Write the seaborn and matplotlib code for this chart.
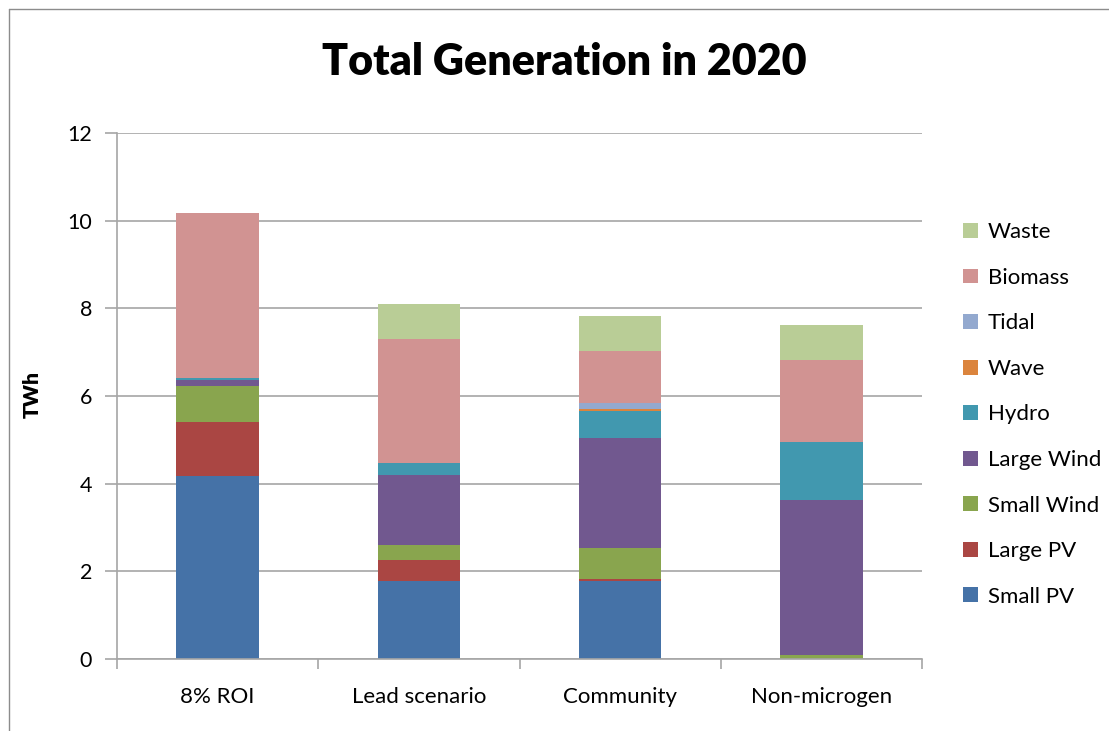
import numpy as np
import pandas as pd
import matplotlib
matplotlib.use("Agg")
import matplotlib.pyplot as plt
from matplotlib.patches import Patch
from matplotlib.lines import Line2D
import seaborn as sns

# Scenario totals by technology (TWh)
scenarios = ["8% ROI", "Lead scenario", "Community", "Non-microgen"]
technologies = ["Small PV", "Large PV", "Small Wind", "Large Wind", "Hydro",
                "Wave", "Tidal", "Biomass", "Waste"]

small_pv = [4.18, 1.77, 1.77, 0.00]
large_pv = [1.22, 0.48, 0.05, 0.00]
small_wind = [0.82, 0.34, 0.71, 0.08]
large_wind = [0.14, 1.60, 2.51, 3.54]
hydro = [0.05, 0.27, 0.61, 1.32]
wave = [0.00, 0.00, 0.05, 0.00]
tidal = [0.00, 0.00, 0.13, 0.00]
biomass = [3.76, 2.83, 1.19, 1.88]
waste = [0.00, 0.80, 0.80, 0.79]

colors = ["#4572A7", "#AA4643", "#89A54E", "#71588F", "#4198AF",
          "#DB843D", "#93A9CF", "#D19392", "#B9CD96"]

series = [small_pv, large_pv, small_wind, large_wind, hydro,
          wave, tidal, biomass, waste]

sns.set_theme(style="white")
plt.rcParams["font.family"] = ["Lato", "DejaVu Sans"]
plt.rcParams["text.color"] = "black"

fig = plt.figure(figsize=(11.09, 7.31), dpi=100)
ax = fig.add_axes([0.1055, 0.0985, 0.7259, 0.7196])

grid_color = "#A6A6A6"
ax.set_ylim(0, 12)
ax.set_yticks(np.arange(0, 13, 2))
ax.yaxis.grid(True, color=grid_color, linewidth=1.2)
ax.set_axisbelow(True)

# Stack each technology on top of the running total
bottom = np.zeros(len(scenarios))
for name, vals, col in zip(technologies, series, colors):
    vals = np.asarray(vals, dtype=float)
    sns.barplot(x=scenarios, y=vals, bottom=bottom, color=col, width=0.41,
                saturation=1, ax=ax, linewidth=0)
    bottom = bottom + vals
if ax.get_legend() is not None:
    ax.get_legend().remove()

ax.set_xlim(-0.5, 3.5)
for side in ["top", "right"]:
    ax.spines[side].set_visible(False)
for side in ["left", "bottom"]:
    ax.spines[side].set_color(grid_color)
    ax.spines[side].set_linewidth(1.2)

ax.set_xticks(np.arange(-0.5, 4, 1), minor=True)
ax.tick_params(axis="x", which="major", length=0, pad=20, labelsize=16,
               labelcolor="black")
ax.tick_params(axis="x", which="minor", length=7, width=1.2, color=grid_color,
               direction="out", bottom=True)
ax.tick_params(axis="y", which="major", length=9, width=1.2, color=grid_color,
               direction="out", left=True, pad=9, labelsize=15.5,
               labelcolor="black")
ax.set_xlabel("")
ax.set_ylabel("")

fig.text(0.0293, 0.46, "TWh", rotation=90, fontsize=15, fontweight="heavy",
         ha="center", va="center", color="black")

fig.text(0.509, 0.915, "Total Generation in 2020", ha="center", va="center",
         fontsize=31, fontweight="heavy", color="black")

handles = [Patch(facecolor=c, edgecolor="none", label=t)
           for t, c in zip(technologies, colors)][::-1]
fig.legend(handles=handles, loc="center left",
           bbox_to_anchor=(0.8684, 0.433), frameon=False, fontsize=16,
           handlelength=0.66, handleheight=0.66, handletextpad=0.45,
           labelspacing=1.15, borderpad=0, borderaxespad=0,
           labelcolor="black")

# Chart area border (top and left edges)
fig.add_artist(Line2D([9 / 1109, 9 / 1109], [0, 1 - 9 / 731],
                      transform=fig.transFigure, color="#8C8C8C", lw=1))
fig.add_artist(Line2D([9 / 1109, 1], [1 - 9 / 731, 1 - 9 / 731],
                      transform=fig.transFigure, color="#8C8C8C", lw=1))

fig.savefig("out.png", dpi=100, facecolor="white")
